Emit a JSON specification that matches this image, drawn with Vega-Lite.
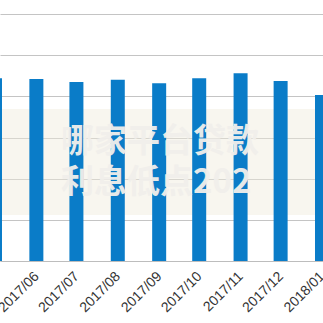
{
  "$schema": "https://vega.github.io/schema/vega-lite/v6.json",
  "autosize": "none",
  "padding": {"top": 14, "left": 0, "right": 0, "bottom": 62},
  "width": 323,
  "height": 247,
  "background": "white",
  "config": {"view": {"stroke": null}},
  "datasets": {
    "bars": [
      {"month": "2017/05/01", "value": 4.44},
      {"month": "2017/06/01", "value": 4.42},
      {"month": "2017/07/01", "value": 4.35},
      {"month": "2017/08/01", "value": 4.40},
      {"month": "2017/09/01", "value": 4.32},
      {"month": "2017/10/01", "value": 4.44},
      {"month": "2017/11/01", "value": 4.56},
      {"month": "2017/12/01", "value": 4.37},
      {"month": "2018/01/01", "value": 4.03}
    ],
    "band": [
      {"start": "2017/04/01", "end": "2017/12/26 19:00", "low": 1.12, "high": 3.69}
    ],
    "mark": [
      {"pos": "2017/06/19 11:00", "v": 2.9, "label": "哪家平台贷款"},
      {"pos": "2017/06/19 11:00", "v": 1.9, "label": "利息低点202"}
    ]
  },
  "layer": [
    {
      "data": {"name": "band"},
      "mark": {"type": "rect", "fill": "#efeadb", "opacity": 0.45, "clip": true},
      "encoding": {
        "x": {"field": "start", "type": "temporal"},
        "x2": {"field": "end"},
        "y": {"field": "low", "type": "quantitative"},
        "y2": {"field": "high"}
      }
    },
    {
      "data": {"name": "bars"},
      "mark": {"type": "bar", "width": 14, "color": "#0a7cc8", "clip": true},
      "encoding": {
        "x": {
          "field": "month",
          "type": "temporal",
          "scale": {"padding": 0, "nice": false, "domain": [
            {"year": 2017, "month": 5, "date": 4, "hours": 18},
            {"year": 2018, "month": 1, "date": 1, "hours": 18}
          ]},
          "axis": {
            "title": null,
            "format": "%Y/%m",
            "tickCount": {"interval": "month", "step": 1},
            "labelAngle": -45,
            "labelAlign": "right",
            "labelBaseline": "top",
            "labelFontSize": 14,
            "labelFont": "Liberation Sans",
            "labelColor": "#333333",
            "labelPadding": 8,
            "labelOffset": -5,
            "labelOverlap": false,
            "labelFlush": false,
            "labelBound": false,
            "ticks": false,
            "grid": false,
            "domainColor": "#bdbdbd"
          }
        },
        "y": {
          "field": "value",
          "type": "quantitative",
          "scale": {"domain": [0, 6], "nice": false},
          "axis": {
            "title": null,
            "labels": false,
            "ticks": false,
            "domain": false,
            "tickCount": 6,
            "gridColor": "#c4c4c4"
          }
        }
      }
    },
    {
      "data": {"name": "mark"},
      "mark": {"type": "text", "font": "Noto Sans CJK SC", "fontWeight": "bold", "fontSize": 33, "color": "#f1efeb", "opacity": 0.95, "align": "left", "baseline": "middle", "clip": true},
      "encoding": {
        "x": {"field": "pos", "type": "temporal"},
        "y": {"field": "v", "type": "quantitative"},
        "text": {"field": "label"}
      }
    }
  ]
}
